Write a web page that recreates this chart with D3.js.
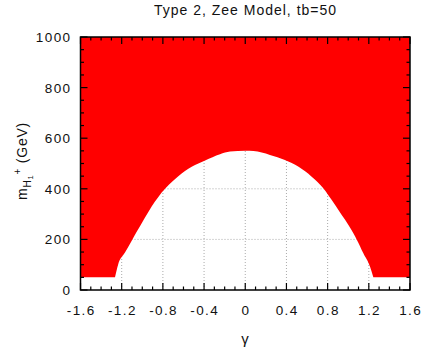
<!DOCTYPE html>
<html>
<head>
<meta charset="utf-8">
<script src="https://cdn.jsdelivr.net/npm/d3@7"></script>
<style>
  body { margin: 0; background: #fff; }
  svg { font-family: "Liberation Sans", Arial, sans-serif; fill: #111; }
  .grid line { stroke: #aaa; stroke-dasharray: 1,2; }
</style>
</head>
<body>
<svg width="426" height="351"></svg>
<script>
// boundary of the excluded (white) region
const gammaEdge = [-1.265, -1.235, -1.168, -1.1, -1.05, -1.0, -0.95, -0.909, -0.844, -0.779, -0.70, -0.65,
  -0.52, -0.39, -0.245, -0.148, 0, 0.08, 0.24, 0.385, 0.518, 0.645, 0.758, 0.807, 0.873, 0.937,
  1.002, 1.05, 1.082, 1.147, 1.212, 1.244];
const massEdge = [50, 100, 148, 197, 233, 268, 302, 330, 368, 400, 432, 450,
  487, 512, 537, 547, 550, 549, 534, 514, 487, 448, 402, 375, 336, 296,
  257, 224, 200, 145, 92, 50];
const massFloor = 50;
const massTop = 1000;

const xTicks = [-1.6, -1.2, -0.8, -0.4, 0, 0.4, 0.8, 1.2, 1.6];
const yTicks = [0, 200, 400, 600, 800, 1000];
const title = "Type 2, Zee Model, tb=50";

const svg = d3.select("svg");
const margin = { left: 80.5, right: 16, top: 37, bottom: 61 };
const width = 426, height = 351;

const x = d3.scaleLinear().domain([-1.6, 1.6]).range([margin.left, width - margin.right]);
const y = d3.scaleLinear().domain([0, 1000]).range([height - margin.bottom, margin.top]);

// gridlines
const grid = svg.append("g").attr("class", "grid");
grid.selectAll(".gx").data(xTicks.slice(1, -1)).enter().append("line")
  .attr("x1", (d) => x(d)).attr("x2", (d) => x(d))
  .attr("y1", y(0)).attr("y2", y(1000));
grid.selectAll(".gy").data(yTicks.slice(1, -1)).enter().append("line")
  .attr("x1", x(-1.6)).attr("x2", x(1.6))
  .attr("y1", (d) => y(d)).attr("y2", (d) => y(d));

// allowed region: smooth edge, then round the outside
const edge = gammaEdge.map((g, i) => [g, massEdge[i]]);
const edgePath = d3.line().curve(d3.curveMonotoneX)
  .x((d) => x(d[0])).y((d) => y(d[1]))(edge);
const outer = [[1.6, massFloor], [1.6, massTop], [-1.6, massTop], [-1.6, massFloor]]
  .map((d) => "L" + x(d[0]) + "," + y(d[1])).join("");

svg.append("path")
  .attr("d", edgePath + outer + "Z")
  .attr("fill", "#ff0000");

// ticks on all four sides, pointing inward
const ticks = svg.append("g").attr("stroke", "#000").attr("stroke-width", 1.2);
const xMinor = d3.range(-16, 17).map((d) => d / 10);
const yMinor = d3.range(0, 1001, 50);
xMinor.forEach((d) => {
  const len = xTicks.some((t) => Math.abs(t - d) < 1e-9) ? 7 : 3.5;
  ticks.append("line").attr("x1", x(d)).attr("x2", x(d)).attr("y1", y(0)).attr("y2", y(0) - len);
  ticks.append("line").attr("x1", x(d)).attr("x2", x(d)).attr("y1", y(1000)).attr("y2", y(1000) + len);
});
yMinor.forEach((d) => {
  const len = d % 200 === 0 ? 7 : 3.5;
  ticks.append("line").attr("y1", y(d)).attr("y2", y(d)).attr("x1", x(-1.6)).attr("x2", x(-1.6) + len);
  ticks.append("line").attr("y1", y(d)).attr("y2", y(d)).attr("x1", x(1.6)).attr("x2", x(1.6) - len);
});

// frame
svg.append("rect")
  .attr("x", x(-1.6)).attr("y", y(1000))
  .attr("width", x(1.6) - x(-1.6)).attr("height", y(0) - y(1000))
  .attr("fill", "none").attr("stroke", "#000").attr("stroke-width", 1.5);

// tick labels
svg.append("g").selectAll("text").data(xTicks).enter().append("text")
  .attr("x", (d) => x(d) + 0.7).attr("y", y(0) + 25)
  .attr("text-anchor", "middle").attr("font-size", 13.5).attr("letter-spacing", 1.4)
  .text((d) => d);

svg.append("g").selectAll("text").data(yTicks).enter().append("text")
  .attr("x", 71.5).attr("y", (d) => y(d) + 5)
  .attr("text-anchor", "end").attr("font-size", 13.5).attr("letter-spacing", 1.4)
  .text((d) => d);

// title
svg.append("text")
  .attr("x", 245.5).attr("y", 15)
  .attr("text-anchor", "middle").attr("font-size", 14).attr("letter-spacing", 1)
  .text(title);

// x label
svg.append("text")
  .attr("x", 245).attr("y", 344)
  .attr("text-anchor", "middle").attr("font-size", 15)
  .text("γ");

// y label
const yl = svg.append("text")
  .attr("transform", "translate(27,161) rotate(-90)")
  .attr("text-anchor", "middle").attr("font-size", 14).attr("letter-spacing", 0.8);
yl.append("tspan").text("m");
yl.append("tspan").attr("font-size", 10).attr("dy", 4).text("H");
yl.append("tspan").attr("font-size", 7.5).attr("dy", 2).text("1");
yl.append("tspan").attr("font-size", 10).attr("dy", -12).text("+");
yl.append("tspan").attr("dy", 6).text(" (GeV)");
</script>
</body>
</html>
